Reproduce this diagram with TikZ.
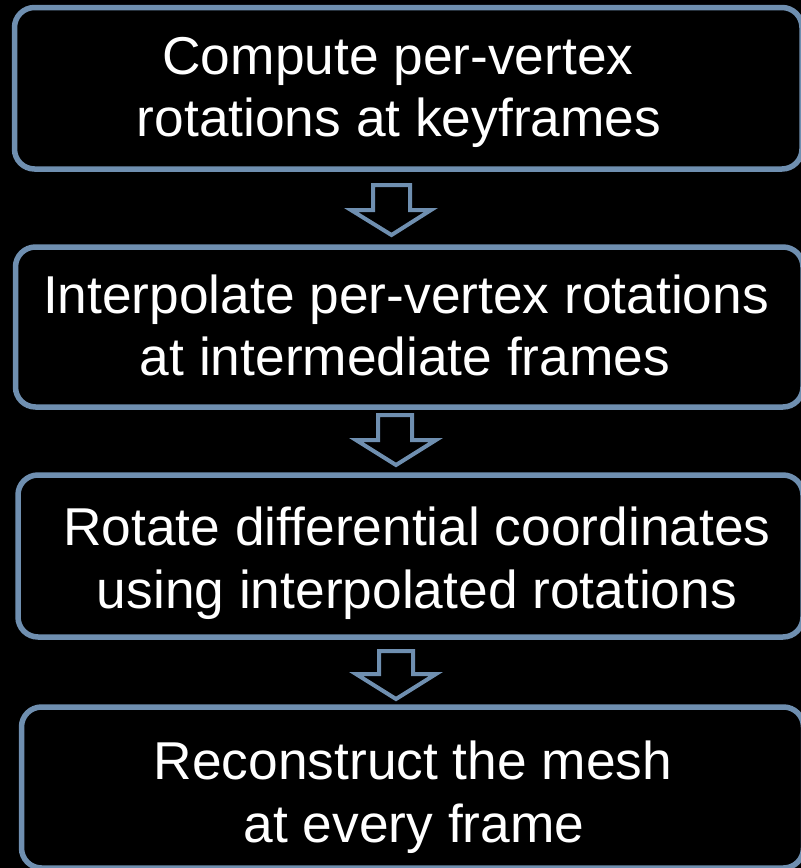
\documentclass[tikz,border=0pt]{standalone}
\usepackage{fontspec}
\setmainfont{Liberation Sans}
\definecolor{edge}{RGB}{111,143,176}
\begin{document}
\begin{tikzpicture}[x=1pt,y=-1pt,
  stepbox/.style={draw=edge, line width=5.5pt, rounded corners=20pt, fill=black, inner sep=0pt},
  txt/.style={text=white, anchor=base, inner sep=0pt, font=\fontsize{53.3}{62}\selectfont},
  blockarrow/.style={draw=edge, line width=4pt, fill=black, line join=miter}]
\fill[black] (0,0) rectangle (801,868);
\useasboundingbox (0,0) rectangle (801,868);
% boxes
\node[stepbox, minimum width=787.5pt, minimum height=161.5pt] (b1) at (408.25,88.25) {};
\node[stepbox, minimum width=787.5pt, minimum height=160pt] (b2) at (409.25,327) {};
\node[stepbox, minimum width=785pt, minimum height=162pt] (b3) at (410.5,556) {};
\node[stepbox, minimum width=782pt, minimum height=161pt] (b4) at (412.5,787.5) {};
% texts
\node[txt] (t1a) at (398,74) {Compute per-vertex};
\node[txt] (t1b) at (399,136) {rotations at keyframes};
\node[txt] (t2a) at (406,313) {Interpolate per-vertex rotations};
\node[txt] (t2b) at (405,375) {at intermediate frames};
\node[txt] (t3a) at (417,545) {Rotate differential coordinates};
\node[txt] (t3b) at (417,608) {using interpolated rotations};
\node[txt] (t4a) at (413,779) {Reconstruct the mesh};
\node[txt] (t4b) at (414,842) {at every frame};
% block arrows
\draw[blockarrow] (373,185) -- (410,185) -- (410,210) -- (431,210) -- (391.5,235) -- (351,210) -- (373,210) -- cycle;
\draw[blockarrow] (378,415) -- (412,415) -- (412,440) -- (436,440) -- (396,465) -- (356,440) -- (378,440) -- cycle;
\draw[blockarrow] (379,651) -- (413,651) -- (413,674) -- (436,674) -- (396,699) -- (356,674) -- (379,674) -- cycle;
\end{tikzpicture}
\end{document}
